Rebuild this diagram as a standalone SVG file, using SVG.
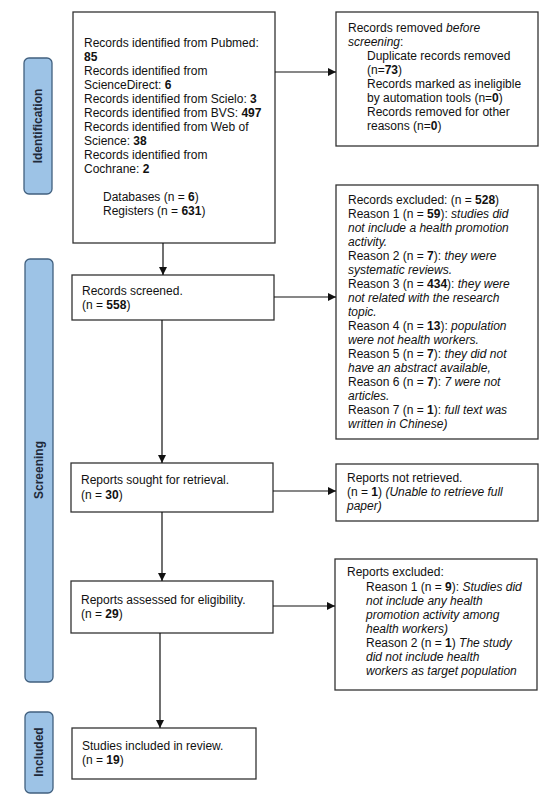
<svg xmlns="http://www.w3.org/2000/svg" width="559" height="800" viewBox="0 0 559 800">
<defs>
<marker id="ah" viewBox="0 0 10 10" refX="10" refY="5" markerWidth="8" markerHeight="8" markerUnits="userSpaceOnUse" orient="auto">
<path d="M0,0 L10,5 L0,10 z" fill="#111"/>
</marker>
</defs>
<style>
.box{fill:#fff;stroke:#333;stroke-width:1.3}
.lab{fill:#9dc3e6;stroke:#41607f;stroke-width:1.3}
.t{font-family:"Liberation Sans",Arial,sans-serif;font-size:12px;fill:#111}
.lt{font-family:"Liberation Sans",Arial,sans-serif;font-size:12px;font-weight:bold;fill:#1f2a3a}
.b{font-weight:bold}
.i{font-style:italic}
.c{stroke:#111;stroke-width:1.2;fill:none;marker-end:url(#ah)}
</style>
<rect width="559" height="800" fill="#fff"/>

<g id="label-identification">
<rect class="lab" x="24" y="58" width="28" height="136" rx="5"/>
<text class="lt" transform="translate(42,126) rotate(-90)" text-anchor="middle">Identification</text>
</g>
<g id="label-screening">
<rect class="lab" x="25" y="259" width="28" height="423" rx="5"/>
<text class="lt" transform="translate(43,470) rotate(-90)" text-anchor="middle">Screening</text>
</g>
<g id="label-included">
<rect class="lab" x="25" y="712" width="28" height="81" rx="5"/>
<text class="lt" transform="translate(43,752) rotate(-90)" text-anchor="middle">Included</text>
</g>

<g id="identified">
<rect class="box" x="73" y="12" width="202" height="231"/>
<text class="t">
<tspan x="84" y="47">Records identified from Pubmed:</tspan>
<tspan x="84" y="61" class="b">85</tspan>
<tspan x="84" y="75">Records identified from</tspan>
<tspan x="84" y="89">ScienceDirect: <tspan class="b">6</tspan></tspan>
<tspan x="84" y="103">Records identified from Scielo: <tspan class="b">3</tspan></tspan>
<tspan x="84" y="117">Records identified from BVS: <tspan class="b">497</tspan></tspan>
<tspan x="84" y="131">Records identified from Web of</tspan>
<tspan x="84" y="145">Science: <tspan class="b">38</tspan></tspan>
<tspan x="84" y="159">Records identified from</tspan>
<tspan x="84" y="173">Cochrane: <tspan class="b">2</tspan></tspan>
<tspan x="103" y="201">Databases (n = <tspan class="b">6</tspan>)</tspan>
<tspan x="103" y="215">Registers (n = <tspan class="b">631</tspan>)</tspan>
</text>
</g>

<g id="removed">
<rect class="box" x="336" y="12" width="202" height="134"/>
<text class="t">
<tspan x="348" y="32">Records removed <tspan class="i">before</tspan></tspan>
<tspan x="348" y="46" class="i">screening</tspan><tspan>:</tspan>
<tspan x="367" y="60">Duplicate records removed</tspan>
<tspan x="367" y="74">(n=<tspan class="b">73</tspan>)</tspan>
<tspan x="367" y="88">Records marked as ineligible</tspan>
<tspan x="367" y="102">by automation tools (n=<tspan class="b">0</tspan>)</tspan>
<tspan x="367" y="116">Records removed for other</tspan>
<tspan x="367" y="130">reasons (n=<tspan class="b">0</tspan>)</tspan>
</text>
</g>

<g id="screened">
<rect class="box" x="72" y="275" width="202" height="45"/>
<text class="t">
<tspan x="82" y="295">Records screened.</tspan>
<tspan x="82" y="309">(n = <tspan class="b">558</tspan>)</tspan>
</text>
</g>

<g id="excluded">
<rect class="box" x="336" y="185" width="202" height="254"/>
<text class="t">
<tspan x="348" y="204">Records excluded: (n = <tspan class="b">528</tspan>)</tspan>
<tspan x="348" y="218">Reason 1 (n = <tspan class="b">59</tspan>): <tspan class="i">studies did</tspan></tspan>
<tspan x="348" y="232" class="i">not include a health promotion</tspan>
<tspan x="348" y="246" class="i">activity.</tspan>
<tspan x="348" y="260">Reason 2 (n = <tspan class="b">7</tspan>): <tspan class="i">they were</tspan></tspan>
<tspan x="348" y="274" class="i">systematic reviews.</tspan>
<tspan x="348" y="288">Reason 3 (n = <tspan class="b">434</tspan>): <tspan class="i">they were</tspan></tspan>
<tspan x="348" y="302" class="i">not related with the research</tspan>
<tspan x="348" y="316" class="i">topic.</tspan>
<tspan x="348" y="330">Reason 4 (n = <tspan class="b">13</tspan>): <tspan class="i">population</tspan></tspan>
<tspan x="348" y="344" class="i">were not health workers.</tspan>
<tspan x="348" y="358">Reason 5 (n = <tspan class="b">7</tspan>): <tspan class="i">they did not</tspan></tspan>
<tspan x="348" y="372" class="i">have an abstract available,</tspan>
<tspan x="348" y="386">Reason 6 (n = <tspan class="b">7</tspan>): <tspan class="i">7 were not</tspan></tspan>
<tspan x="348" y="400" class="i">articles.</tspan>
<tspan x="348" y="414">Reason 7 (n = <tspan class="b">1</tspan>): <tspan class="i">full text was</tspan></tspan>
<tspan x="348" y="428" class="i">written in Chinese)</tspan>
</text>
</g>

<g id="sought">
<rect class="box" x="71" y="463" width="202" height="49"/>
<text class="t">
<tspan x="81" y="484">Reports sought for retrieval.</tspan>
<tspan x="81" y="499">(n = <tspan class="b">30</tspan>)</tspan>
</text>
</g>

<g id="not-retrieved">
<rect class="box" x="336" y="464" width="202" height="57"/>
<text class="t">
<tspan x="347" y="482">Reports not retrieved.</tspan>
<tspan x="347" y="496">(n = <tspan class="b">1</tspan>) <tspan class="i">(Unable to retrieve full</tspan></tspan>
<tspan x="347" y="510" class="i">paper)</tspan>
</text>
</g>

<g id="assessed">
<rect class="box" x="71" y="581" width="202" height="52"/>
<text class="t">
<tspan x="81" y="604">Reports assessed for eligibility.</tspan>
<tspan x="81" y="618">(n = <tspan class="b">29</tspan>)</tspan>
</text>
</g>

<g id="reports-excluded">
<rect class="box" x="335" y="559" width="202" height="131"/>
<text class="t">
<tspan x="347" y="576">Reports excluded:</tspan>
<tspan x="366" y="591">Reason 1 (n = <tspan class="b">9</tspan>): <tspan class="i">Studies did</tspan></tspan>
<tspan x="366" y="605" class="i">not include any health</tspan>
<tspan x="366" y="619" class="i">promotion activity among</tspan>
<tspan x="366" y="633" class="i">health workers)</tspan>
<tspan x="366" y="647">Reason 2 (n = <tspan class="b">1</tspan>) <tspan class="i">The study</tspan></tspan>
<tspan x="366" y="661" class="i">did not include health</tspan>
<tspan x="366" y="675" class="i">workers as target population</tspan>
</text>
</g>

<g id="included">
<rect class="box" x="72" y="728" width="184" height="51"/>
<text class="t">
<tspan x="82" y="750">Studies included in review.</tspan>
<tspan x="82" y="764">(n = <tspan class="b">19</tspan>)</tspan>
</text>
</g>

<g id="connectors">
<path class="c" d="M275,72 L336,72"/>
<path class="c" d="M163,243 L163,275"/>
<path class="c" d="M274,297 L336,297"/>
<path class="c" d="M162,320 L162,463"/>
<path class="c" d="M273,491 L336,491"/>
<path class="c" d="M162,512 L162,581"/>
<path class="c" d="M273,606 L335,606"/>
<path class="c" d="M160,633 L160,728"/>
</g>
</svg>
